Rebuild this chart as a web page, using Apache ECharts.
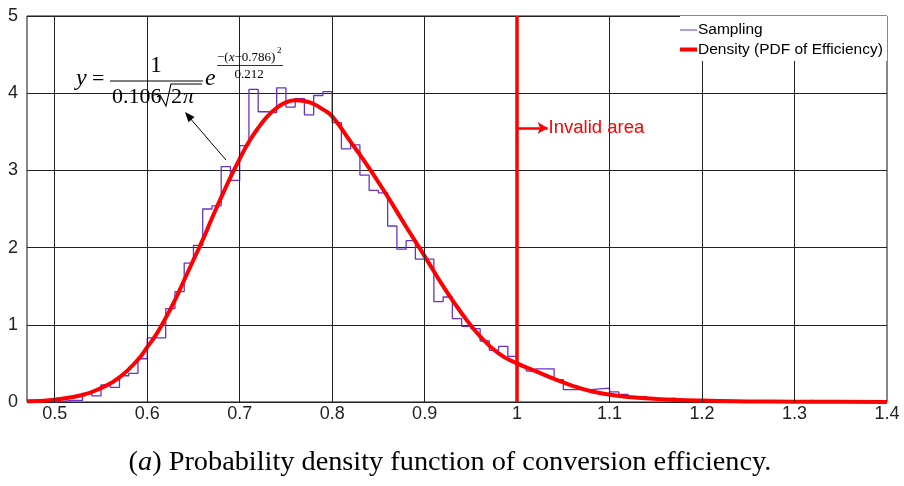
<!DOCTYPE html>
<html>
<head>
<meta charset="utf-8">
<script src="https://cdn.jsdelivr.net/npm/echarts@6/dist/echarts.min.js"></script>
<style>
  html, body { margin: 0; padding: 0; background: #ffffff; }
  #chart { width: 904px; height: 486px; }
</style>
</head>
<body>
<div id="chart"></div>
<script>
// Axis ticks
const xTickValues = [0.5, 0.6, 0.7, 0.8, 0.9, 1.0, 1.1, 1.2, 1.3, 1.4];
const xGridValues = [0.5, 0.6, 0.7, 0.8, 0.9, 1.0, 1.1, 1.2, 1.3];
const yTickValues = [0, 1, 2, 3, 4, 5];

// Sampled histogram: left edge of each bin and its density
const binLeftEdges = [
  0.50, 0.51, 0.52, 0.53, 0.54, 0.55, 0.56, 0.57, 0.58, 0.59,
  0.60, 0.61, 0.62, 0.63, 0.64, 0.65, 0.66, 0.67, 0.68, 0.69,
  0.70, 0.71, 0.72, 0.73, 0.74, 0.75, 0.76, 0.77, 0.78, 0.79,
  0.80, 0.81, 0.82, 0.83, 0.84, 0.85, 0.86, 0.87, 0.88, 0.89,
  0.90, 0.91, 0.92, 0.93, 0.94, 0.95, 0.96, 0.97, 0.98, 0.99,
  1.00, 1.01, 1.02, 1.03, 1.04, 1.05, 1.06, 1.07, 1.08, 1.09,
  1.10, 1.11, 1.12, 1.13, 1.14, 1.15, 1.16, 1.17, 1.18, 1.19,
  1.20, 1.21, 1.22, 1.23, 1.24, 1.25, 1.26, 1.27, 1.28, 1.29,
  1.30, 1.31, 1.32, 1.33
];
const binHeights = [
  0.01, 0.02, 0.02, 0.11, 0.08, 0.22, 0.19, 0.34, 0.37, 0.56,
  0.83, 0.83, 1.21, 1.43, 1.80, 2.03, 2.50, 2.54, 3.05, 2.87,
  3.32, 4.05, 3.76, 3.75, 4.07, 3.82, 3.93, 3.72, 3.97, 4.02,
  3.62, 3.28, 3.33, 2.94, 2.74, 2.71, 2.28, 1.98, 2.09, 1.85,
  1.85, 1.30, 1.36, 1.08, 0.98, 0.95, 0.79, 0.67, 0.72, 0.59,
  0.47, 0.40, 0.43, 0.43, 0.29, 0.16, 0.16, 0.16, 0.17, 0.18,
  0.13, 0.10, 0.07, 0.07, 0.04, 0.04, 0.05, 0.03, 0.03, 0.03,
  0.01, 0.02, 0.02, 0.01, 0.01, 0.01, 0.00, 0.01, 0.00, 0.00,
  0.01, 0.02, 0.00, 0.00
];
const lastBinRightEdge = 1.34;

// Fitted density curve
const pdfX = [
  0.47, 0.50, 0.53, 0.55, 0.57, 0.59, 0.60, 0.61, 0.62, 0.63,
  0.64, 0.65, 0.66, 0.67, 0.68, 0.69, 0.70, 0.71, 0.72, 0.73,
  0.74, 0.75, 0.76, 0.77, 0.78, 0.79, 0.80, 0.82, 0.84, 0.86,
  0.88, 0.90, 0.92, 0.94, 0.96, 0.98, 1.00, 1.02, 1.04, 1.06,
  1.08, 1.10, 1.12, 1.15, 1.20, 1.25, 1.30, 1.35, 1.40
];
const pdfY = [
  0.01, 0.03, 0.09, 0.18, 0.32, 0.55, 0.71, 0.88, 1.09, 1.32,
  1.58, 1.84, 2.10, 2.38, 2.65, 2.91, 3.15, 3.37, 3.55, 3.70,
  3.81, 3.88, 3.91, 3.90, 3.86, 3.79, 3.70, 3.37, 3.03, 2.66,
  2.27, 1.89, 1.50, 1.15, 0.85, 0.63, 0.50, 0.40, 0.30, 0.21,
  0.14, 0.095, 0.065, 0.04, 0.018, 0.008, 0.004, 0.002, 0.001
];

// Efficiency limit and the annotation pointing past it
const invalidLimit = 1.0;
const invalidArrowEnd = 1.033;
const invalidArrowY = 3.55;
const invalidLabel = 'Invalid area';

const legendNames = ['Sampling', 'Density (PDF of Efficiency)'];

const PURPLE = '#6632cc';
const RED = '#ff0000';
const GRID_COLOR = '#222222';
const SANS = 'Liberation Sans, Arial, sans-serif';
const SERIF = 'Liberation Serif, Times New Roman, serif';

const histData = binLeftEdges.map((x, i) => [x, binHeights[i]]);
histData.unshift([binLeftEdges[0], 0]);
histData.push([lastBinRightEdge, 0]);
const pdfData = pdfX.map((x, i) => [x, pdfY[i]]);

const chart = echarts.init(document.getElementById('chart'), null, { renderer: 'canvas' });

const option = {
  animation: false,
  backgroundColor: '#ffffff',
  grid: {
    left: 27, right: 17, top: 16, bottom: 84,
    show: true, borderColor: '#111111', borderWidth: 1, backgroundColor: 'transparent'
  },
  xAxis: {
    type: 'value',
    min: 0.47, max: 1.4,
    axisLine: { show: false },
    axisTick: { show: false },
    splitLine: { show: false },
    axisLabel: {
      customValues: xTickValues,
      margin: 3,
      fontFamily: SANS, fontSize: 18, color: '#222222',
      formatter: v => String(Math.round(v * 10) / 10)
    }
  },
  yAxis: {
    type: 'value',
    min: yTickValues[0], max: yTickValues[yTickValues.length - 1], interval: 1,
    axisLine: { show: false },
    axisTick: { show: false },
    splitLine: { show: true, lineStyle: { color: GRID_COLOR, width: 1 } },
    axisLabel: { margin: 9, fontFamily: SANS, fontSize: 18, color: '#222222' }
  },
  series: [
    {
      // vertical grid lines at the labelled x ticks
      type: 'line', data: [], z: 1, silent: true,
      markLine: {
        silent: true, symbol: 'none', animation: false,
        label: { show: false },
        lineStyle: { color: GRID_COLOR, width: 1, type: 'solid' },
        data: xGridValues.map(v => ({ xAxis: v }))
      }
    },
    {
      name: legendNames[0],
      type: 'line', data: histData, step: 'end',
      showSymbol: false, z: 3,
      lineStyle: { color: PURPLE, width: 1.3 }
    },
    {
      name: legendNames[1],
      type: 'line', data: pdfData, smooth: true,
      showSymbol: false, z: 4,
      lineStyle: { color: RED, width: 4 }
    },
    {
      // efficiency limit
      type: 'line', data: [], z: 5, silent: true,
      markLine: {
        silent: true, animation: false, symbol: 'none',
        label: { show: false },
        lineStyle: { color: RED, width: 3.5, type: 'solid' },
        data: [{ xAxis: invalidLimit }]
      }
    },
    {
      // arrow into the invalid region
      type: 'line', data: [], z: 5, silent: true,
      markLine: {
        silent: true, animation: false,
        symbol: ['none', 'arrow'], symbolSize: [9, 10],
        label: { show: false },
        lineStyle: { color: RED, width: 2.5, type: 'solid' },
        data: [[
          { coord: [invalidLimit, invalidArrowY] },
          { coord: [invalidArrowEnd, invalidArrowY] }
        ]]
      }
    }
  ]
};
chart.setOption(option);

// Annotations positioned from the data scales or the page layout
const labelPos = chart.convertToPixel({ gridIndex: 0 }, [invalidArrowEnd, invalidArrowY]);

function arrowHead(tail, tip, len, half) {
  const dx = tip[0] - tail[0], dy = tip[1] - tail[1];
  const d = Math.hypot(dx, dy);
  const ux = dx / d, uy = dy / d;
  const bx = tip[0] - ux * len, by = tip[1] - uy * len;
  return [tip, [bx - uy * half, by + ux * half], [bx + uy * half, by - ux * half]];
}
const fArrowTail = [226, 160];
const fArrowTip = [185, 112];

const mathStyle = (text, x, y, size, extra) => Object.assign({
  type: 'text', z: 50, silent: true,
  style: Object.assign({
    text: text, x: x, y: y,
    font: size + 'px ' + SERIF,
    fill: '#000000', verticalAlign: 'middle', align: 'left'
  }, extra || {})
});

chart.setOption({
  graphic: [
    // "Invalid area" label
    {
      type: 'text', z: 60, silent: true,
      style: {
        text: invalidLabel, x: labelPos[0] + 1, y: labelPos[1],
        font: '18.5px ' + SANS, fill: RED, verticalAlign: 'middle', align: 'left'
      }
    },
    // Density formula
    mathStyle('y', 76, 79, 24, { font: 'italic 24px ' + SERIF }),
    mathStyle('=', 92, 79, 22),
    mathStyle('1', 156, 66, 23, { align: 'center' }),
    { type: 'line', z: 50, silent: true, shape: { x1: 110, y1: 81, x2: 203, y2: 81 }, style: { stroke: '#000', lineWidth: 1 } },
    mathStyle('0.106', 112, 97.5, 22),
    {
      type: 'polyline', z: 50, silent: true,
      shape: { points: [[157, 97], [160, 95], [166, 106], [171, 84], [202, 84]] },
      style: { stroke: '#000', lineWidth: 1.1, fill: null }
    },
    mathStyle('2', 171, 97.5, 22),
    mathStyle('π', 183, 97.5, 22, { font: 'italic 22px ' + SERIF }),
    mathStyle('e', 205, 79, 24, { font: 'italic 24px ' + SERIF }),
    {
      type: 'text', z: 50, silent: true,
      style: {
        text: '−({i|x}−0.786)', x: 217, y: 58,
        font: '13px ' + SERIF, fill: '#000', verticalAlign: 'middle', align: 'left',
        rich: { i: { font: 'italic 13px ' + SERIF, fill: '#000' } }
      }
    },
    mathStyle('2', 277, 51, 9),
    { type: 'line', z: 50, silent: true, shape: { x1: 217, y1: 65.5, x2: 283, y2: 65.5 }, style: { stroke: '#000', lineWidth: 0.8 } },
    mathStyle('0.212', 249, 75, 13, { align: 'center' }),
    // Arrow from the curve to the formula
    { type: 'line', z: 50, silent: true, shape: { x1: fArrowTail[0], y1: fArrowTail[1], x2: 189, y2: 117 }, style: { stroke: '#000', lineWidth: 1 } },
    { type: 'polygon', z: 50, silent: true, shape: { points: arrowHead(fArrowTail, fArrowTip, 10, 4) }, style: { fill: '#000' } },
    // Legend box
    { type: 'rect', z: 80, silent: true, shape: { x: 680, y: 16, width: 207, height: 45 }, style: { fill: '#ffffff', stroke: null } },
    { type: 'line', z: 81, silent: true, shape: { x1: 680, y1: 30, x2: 697, y2: 30 }, style: { stroke: PURPLE, lineWidth: 1 } },
    { type: 'line', z: 81, silent: true, shape: { x1: 680, y1: 49.5, x2: 697, y2: 49.5 }, style: { stroke: RED, lineWidth: 4 } },
    { type: 'text', z: 81, silent: true, style: { text: legendNames[0], x: 698, y: 30, font: '15.5px ' + SANS, fill: '#000', verticalAlign: 'middle' } },
    { type: 'text', z: 81, silent: true, style: { text: legendNames[1], x: 698, y: 49.5, font: '15.5px ' + SANS, fill: '#000', verticalAlign: 'middle' } },
    // Caption
    {
      type: 'text', z: 50, silent: true,
      style: {
        text: '({i|a}) Probability density function of conversion efficiency.',
        x: 450, y: 463, font: '28.3px ' + SERIF, fill: '#000',
        align: 'center', verticalAlign: 'middle',
        rich: { i: { font: 'italic 28.3px ' + SERIF, fill: '#000' } }
      }
    }
  ]
});
</script>
</body>
</html>
